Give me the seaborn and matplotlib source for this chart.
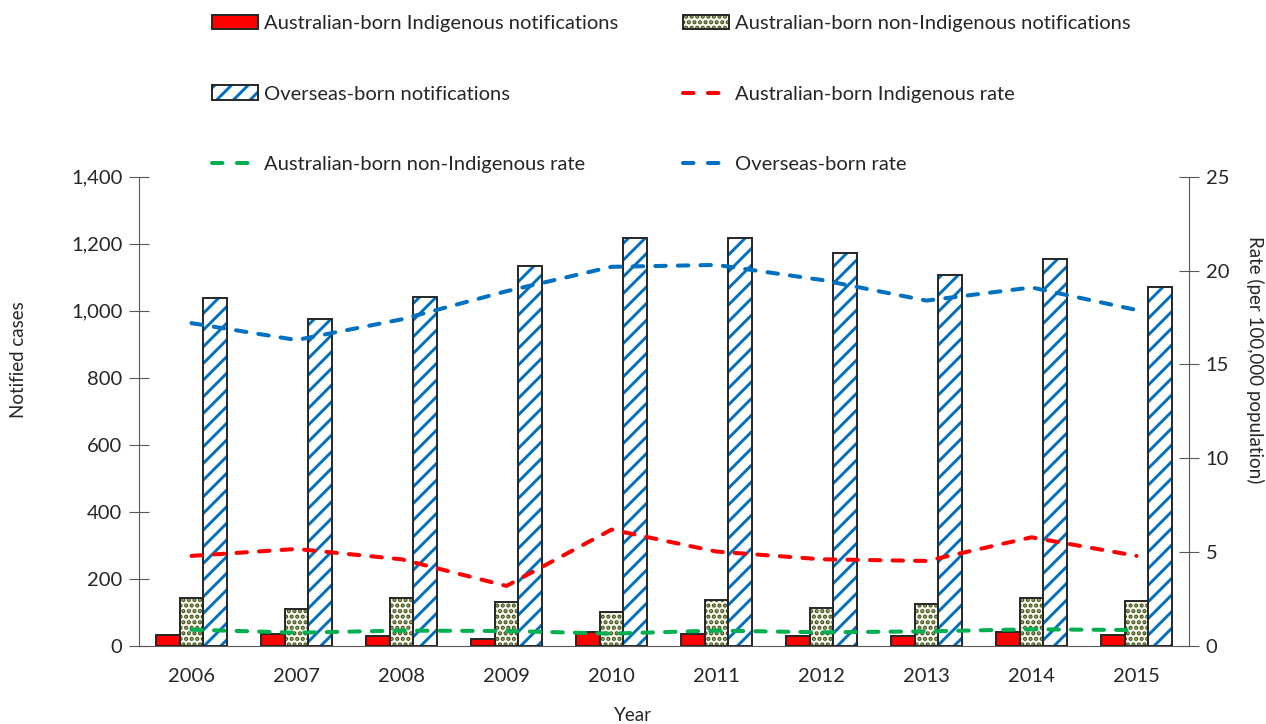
import numpy as np
import pandas as pd
import matplotlib
matplotlib.use('Agg')
import matplotlib.pyplot as plt
import seaborn as sns
from matplotlib.patches import Rectangle, Patch
from matplotlib.lines import Line2D
from matplotlib.legend_handler import HandlerTuple
from matplotlib.ticker import FuncFormatter, FixedLocator

# ---- data ----
years = ['2006', '2007', '2008', '2009', '2010', '2011', '2012', '2013', '2014', '2015']
indig_notif = [33, 36, 31, 22, 43, 35, 31, 30, 41, 32]
nonindig_notif = [144, 110, 142, 132, 100, 136, 112, 124, 144, 133]
overseas_notif = [1038, 976, 1040, 1134, 1218, 1218, 1171, 1107, 1153, 1072]
indig_rate = [4.8, 5.17, 4.62, 3.2, 6.2, 5.03, 4.62, 4.53, 5.79, 4.8]
nonindig_rate = [0.87, 0.71, 0.82, 0.80, 0.66, 0.82, 0.73, 0.78, 0.89, 0.85]
overseas_rate = [17.2, 16.3, 17.4, 18.9, 20.2, 20.3, 19.5, 18.4, 19.1, 17.9]

bar_series = ['Australian-born Indigenous notifications',
              'Australian-born non-Indigenous notifications',
              'Overseas-born notifications']
line_series = ['Australian-born Indigenous rate',
               'Australian-born non-Indigenous rate',
               'Overseas-born rate']
left_ticks = [0, 200, 400, 600, 800, 1000, 1200, 1400]
right_ticks = [0, 5, 10, 15, 20, 25]

# ---- styles ----
RED = '#FF0000'
GREEN = '#00B050'
BLUE = '#0070C0'
OLIVE = '#3F5218'
DARK = '#262626'
AXC = '#595959'
TXT = '#262626'

sns.set_style('white')
plt.rcParams['font.family'] = ['Lato', 'DejaVu Sans']
plt.rcParams['hatch.linewidth'] = 2.1
FS = 14.5
LFS = 13.5

df = pd.DataFrame({
    'year': years * 3,
    'series': [bar_series[0]] * len(years) + [bar_series[1]] * len(years) + [bar_series[2]] * len(years),
    'value': indig_notif + nonindig_notif + overseas_notif,
})

fig = plt.figure(figsize=(12.66, 7.24), dpi=100)
ax = fig.add_axes([139 / 1266, 78 / 724, 1050 / 1266, 469.3 / 724])

sns.barplot(data=df, x='year', y='value', hue='series', hue_order=bar_series,
            order=years, palette=[RED, 'white', 'white'], saturation=1,
            width=0.67, gap=0, dodge=True, legend=False, ax=ax, zorder=2)

bar_styles = [
    dict(face=RED, hatch=None, hcol=RED),
    dict(face='#F7F7EC', hatch='...', hcol=OLIVE),
    dict(face='white', hatch='//', hcol=BLUE),
]
for cont, st in zip(ax.containers, bar_styles):
    for p in cont:
        p.set_facecolor(st['face'])
        if st['hatch']:
            p.set_hatch(st['hatch'])
        p.set_edgecolor(st['hcol'])
        p.set_linewidth(0)
        ax.add_patch(Rectangle(p.get_xy(), p.get_width(), p.get_height(),
                               fill=False, edgecolor=DARK, linewidth=1.4, zorder=3))

ax.set_xlim(-0.5, len(years) - 0.5)
ax.set_ylim(0, 1400)
ax.yaxis.set_major_locator(FixedLocator(left_ticks))
ax.yaxis.set_major_formatter(FuncFormatter(lambda v, pos: f'{v:,.0f}'))
ax.set_xticks(range(len(years)))
ax.set_xticklabels(years)
ax.xaxis.set_minor_locator(FixedLocator(np.arange(-0.5, len(years), 1.0)))
ax.tick_params(axis='x', which='major', length=0, pad=16, labelsize=FS, labelcolor=TXT)
ax.tick_params(axis='x', which='minor', direction='inout', length=12, width=0.8, color=AXC)
ax.tick_params(axis='y', which='major', direction='inout', length=14, width=0.8, color=AXC,
               pad=5, labelsize=FS, labelcolor=TXT, left=True)
for s in ['top', 'right']:
    ax.spines[s].set_visible(False)
for s in ['left', 'bottom']:
    ax.spines[s].set_color(AXC)
    ax.spines[s].set_linewidth(0.8)

ax.set_xlabel('Year', fontsize=LFS, color=TXT, va='center')
ax.set_ylabel('Notified cases', fontsize=LFS, color=TXT, va='center')
ax.xaxis.set_label_coords(0.47, -0.149)
ax.yaxis.set_label_coords(-0.115, 0.61)

# ---- rates ----
ax2 = ax.twinx()
xpos = np.arange(len(years))
dash = (0, (2.6, 3.0))
for vals, col in zip([indig_rate, nonindig_rate, overseas_rate], [RED, GREEN, BLUE]):
    sns.lineplot(x=xpos, y=vals, ax=ax2, color=col, linewidth=2.9,
                 linestyle=dash, dash_capstyle='round', zorder=4)
ax2.set_ylim(0, 25)
ax2.yaxis.set_major_locator(FixedLocator(right_ticks))
ax2.tick_params(axis='y', which='major', direction='inout', length=14, width=0.8, color=AXC,
                pad=5, labelsize=FS, labelcolor=TXT, right=True)
for s in ['top', 'left', 'bottom']:
    ax2.spines[s].set_visible(False)
ax2.spines['right'].set_color(AXC)
ax2.spines['right'].set_linewidth(0.8)
ax2.set_ylabel('Rate (per 100,000 population)', fontsize=LFS, color=TXT,
               rotation=270, va='center', ha='center')
ax2.yaxis.set_label_coords(1.0625, 0.61)
ax2.set_xlim(-0.5, len(years) - 0.5)

# ---- legend ----
def bar_handle(st):
    fill = Patch(facecolor=st['face'], hatch=st['hatch'], edgecolor=st['hcol'], linewidth=0)
    outline = Patch(fill=False, edgecolor=DARK, linewidth=1.4)
    return (fill, outline)

def line_handle(col):
    return Line2D([], [], color=col, linewidth=2.9, linestyle=(0, (2.6, 3.6)),
                  dash_capstyle='round')

h_bars = [bar_handle(st) for st in bar_styles]
h_lines = [line_handle(c) for c in [RED, GREEN, BLUE]]
handles = [h_bars[0], h_bars[2], h_lines[1], h_bars[1], h_lines[0], h_lines[2]]
labels = [bar_series[0], bar_series[2], line_series[1], bar_series[1], line_series[0], line_series[2]]
leg = fig.legend(handles, labels, ncol=2, loc='upper left',
                 bbox_to_anchor=(212 / 1266, 1 - 15 / 724), frameon=False,
                 fontsize=FS, handlelength=2.3, handleheight=0.7, handletextpad=0.3,
                 labelspacing=2.65, columnspacing=3.2, borderpad=0, borderaxespad=0,
                 handler_map={tuple: HandlerTuple(ndivide=1, pad=0)})
for t in leg.get_texts():
    t.set_color(TXT)

fig.savefig('out.png', dpi=100)
